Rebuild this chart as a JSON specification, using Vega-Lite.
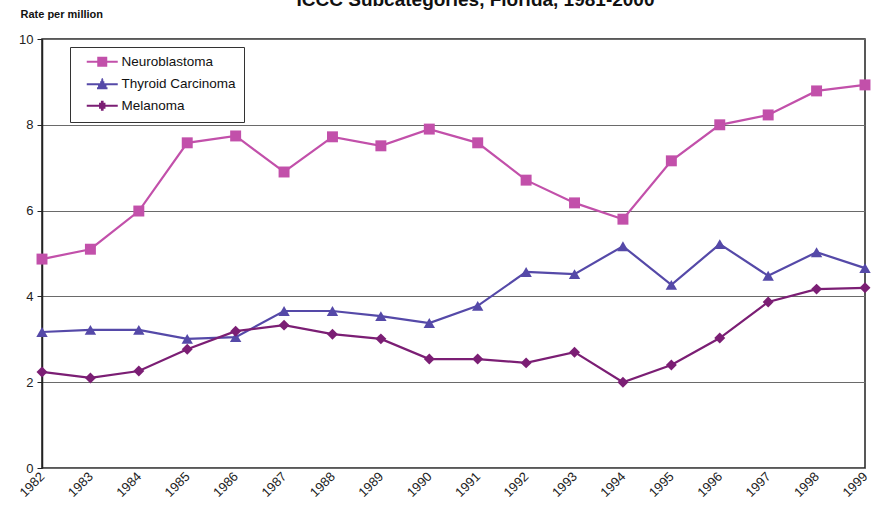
{
  "$schema": "https://vega.github.io/schema/vega-lite/v6.json",
  "autosize": "none",
  "width": 823,
  "height": 429,
  "padding": {"left": 42, "top": 39, "right": 10, "bottom": 40},
  "background": "white",
  "config": {
    "view": {"stroke": "#222", "strokeWidth": 1.5},
    "font": "Liberation Sans"
  },
  "data": {
    "values": [
      {"year": "1982", "series": "Neuroblastoma", "rate": 4.87},
      {"year": "1983", "series": "Neuroblastoma", "rate": 5.10},
      {"year": "1984", "series": "Neuroblastoma", "rate": 5.99},
      {"year": "1985", "series": "Neuroblastoma", "rate": 7.58},
      {"year": "1986", "series": "Neuroblastoma", "rate": 7.74},
      {"year": "1987", "series": "Neuroblastoma", "rate": 6.90},
      {"year": "1988", "series": "Neuroblastoma", "rate": 7.72},
      {"year": "1989", "series": "Neuroblastoma", "rate": 7.51},
      {"year": "1990", "series": "Neuroblastoma", "rate": 7.90},
      {"year": "1991", "series": "Neuroblastoma", "rate": 7.58},
      {"year": "1992", "series": "Neuroblastoma", "rate": 6.71},
      {"year": "1993", "series": "Neuroblastoma", "rate": 6.18},
      {"year": "1994", "series": "Neuroblastoma", "rate": 5.80},
      {"year": "1995", "series": "Neuroblastoma", "rate": 7.16},
      {"year": "1996", "series": "Neuroblastoma", "rate": 8.00},
      {"year": "1997", "series": "Neuroblastoma", "rate": 8.23},
      {"year": "1998", "series": "Neuroblastoma", "rate": 8.79},
      {"year": "1999", "series": "Neuroblastoma", "rate": 8.93},
      {"year": "1982", "series": "Thyroid Carcinoma", "rate": 3.17},
      {"year": "1983", "series": "Thyroid Carcinoma", "rate": 3.22},
      {"year": "1984", "series": "Thyroid Carcinoma", "rate": 3.22},
      {"year": "1985", "series": "Thyroid Carcinoma", "rate": 3.01},
      {"year": "1986", "series": "Thyroid Carcinoma", "rate": 3.05},
      {"year": "1987", "series": "Thyroid Carcinoma", "rate": 3.66},
      {"year": "1988", "series": "Thyroid Carcinoma", "rate": 3.66},
      {"year": "1989", "series": "Thyroid Carcinoma", "rate": 3.54},
      {"year": "1990", "series": "Thyroid Carcinoma", "rate": 3.38},
      {"year": "1991", "series": "Thyroid Carcinoma", "rate": 3.78},
      {"year": "1992", "series": "Thyroid Carcinoma", "rate": 4.57},
      {"year": "1993", "series": "Thyroid Carcinoma", "rate": 4.52},
      {"year": "1994", "series": "Thyroid Carcinoma", "rate": 5.17},
      {"year": "1995", "series": "Thyroid Carcinoma", "rate": 4.27},
      {"year": "1996", "series": "Thyroid Carcinoma", "rate": 5.22},
      {"year": "1997", "series": "Thyroid Carcinoma", "rate": 4.48},
      {"year": "1998", "series": "Thyroid Carcinoma", "rate": 5.03},
      {"year": "1999", "series": "Thyroid Carcinoma", "rate": 4.66},
      {"year": "1982", "series": "Melanoma", "rate": 2.24},
      {"year": "1983", "series": "Melanoma", "rate": 2.10},
      {"year": "1984", "series": "Melanoma", "rate": 2.26},
      {"year": "1985", "series": "Melanoma", "rate": 2.77},
      {"year": "1986", "series": "Melanoma", "rate": 3.19},
      {"year": "1987", "series": "Melanoma", "rate": 3.33},
      {"year": "1988", "series": "Melanoma", "rate": 3.12},
      {"year": "1989", "series": "Melanoma", "rate": 3.01},
      {"year": "1990", "series": "Melanoma", "rate": 2.54},
      {"year": "1991", "series": "Melanoma", "rate": 2.54},
      {"year": "1992", "series": "Melanoma", "rate": 2.45},
      {"year": "1993", "series": "Melanoma", "rate": 2.70},
      {"year": "1994", "series": "Melanoma", "rate": 2.00},
      {"year": "1995", "series": "Melanoma", "rate": 2.40},
      {"year": "1996", "series": "Melanoma", "rate": 3.03},
      {"year": "1997", "series": "Melanoma", "rate": 3.87},
      {"year": "1998", "series": "Melanoma", "rate": 4.17},
      {"year": "1999", "series": "Melanoma", "rate": 4.20}
    ]
  },
  "encoding": {
    "x": {
      "field": "year",
      "type": "ordinal",
      "scale": {"type": "point", "padding": 0},
      "axis": {
        "title": "ICCC Subcategories, Florida, 1981-2000",
        "titleX": 433,
        "titleY": -463,
        "titleAlign": "center",
        "titleBaseline": "alphabetic",
        "titleAngle": 0,
        "titleFont": "Liberation Sans",
        "titleFontSize": 19,
        "titleFontWeight": "bold",
        "titleColor": "#111",
        "labelAngle": -45,
        "labelAlign": "right",
        "labelBaseline": "middle",
        "labelFontSize": 13,
        "labelColor": "#222",
        "labelPadding": 6,
        "ticks": false,
        "domain": false,
        "grid": false
      }
    },
    "y": {
      "field": "rate",
      "type": "quantitative",
      "scale": {"domain": [0, 10]},
      "axis": {
        "values": [0, 2, 4, 6, 8, 10],
        "title": "Rate per million",
        "titleAngle": 0,
        "titleX": -22,
        "titleY": -25,
        "titleAlign": "left",
        "titleBaseline": "middle",
        "titleFontSize": 11,
        "titleFontWeight": "bold",
        "titleColor": "#111",
        "labelFontSize": 13,
        "labelColor": "#222",
        "labelPadding": 4,
        "tickColor": "#222",
        "tickSize": 5,
        "domainColor": "#222",
        "domainWidth": 1.5,
        "grid": true,
        "gridColor": "#6a6a6a",
        "gridWidth": 1.2
      }
    },
    "color": {
      "field": "series",
      "type": "nominal",
      "sort": ["Neuroblastoma", "Thyroid Carcinoma", "Melanoma"],
      "scale": {
        "domain": ["Neuroblastoma", "Thyroid Carcinoma", "Melanoma"],
        "range": ["#C250AA", "#5549A8", "#7B1E74"]
      },
      "legend": {
        "title": null,
        "orient": "none",
        "legendX": 28,
        "legendY": 8,
        "padding": 8,
        "strokeColor": "#333",
        "fillColor": "white",
        "symbolSize": 100,
        "symbolStrokeWidth": 2,
        "symbolOpacity": 1,
        "labelFontSize": 13.5,
        "labelColor": "#111",
        "labelOffset": 30,
        "rowPadding": 4.5,
        "labelLimit": 250
      }
    }
  },
  "layer": [
    {
      "mark": {"type": "line", "strokeWidth": 2.2}
    },
    {
      "transform": [{"filter": "datum.series == 'Neuroblastoma'"}],
      "mark": {"type": "point", "filled": true, "opacity": 1, "size": 120, "shape": "square", "color": "#C250AA"},
      "encoding": {"color": {"value": "#C250AA"}}
    },
    {
      "transform": [{"filter": "datum.series == 'Thyroid Carcinoma'"}],
      "mark": {"type": "point", "filled": true, "opacity": 1, "size": 130, "shape": "triangle-up", "color": "#5549A8"},
      "encoding": {"color": {"value": "#5549A8"}}
    },
    {
      "transform": [{"filter": "datum.series == 'Melanoma'"}],
      "mark": {"type": "point", "filled": true, "opacity": 1, "size": 120, "shape": "diamond", "color": "#7B1E74"},
      "encoding": {"color": {"value": "#7B1E74"}}
    },
    {
      "transform": [{"filter": "datum.rate < 0"}],
      "mark": {"type": "point", "filled": false, "opacity": 1, "strokeWidth": 2},
      "encoding": {
        "shape": {
          "field": "series",
          "type": "nominal",
          "sort": ["Neuroblastoma", "Thyroid Carcinoma", "Melanoma"],
          "scale": {
            "domain": ["Neuroblastoma", "Thyroid Carcinoma", "Melanoma"],
            "range": [
              "M0.4,0H6.6M2.5,-0.8H4.5M2.5,-0.4H4.5M2.5,0.4H4.5M2.5,0.8H4.5",
              "M0.4,0H6.6M3.4,-1.05H3.6M3.29,-0.8H3.71M3.08,-0.4H3.92M2.87,0H4.13M2.66,0.4H4.34M2.45,0.8H4.55",
              "M0.4,0H6.6M3.23,-0.8H3.77M2.86,-0.4H4.14M2.5,0H4.5M2.86,0.4H4.14M3.23,0.8H3.77"
            ]
          },
          "legend": {"title": null}
        }
      }
    }
  ]
}
